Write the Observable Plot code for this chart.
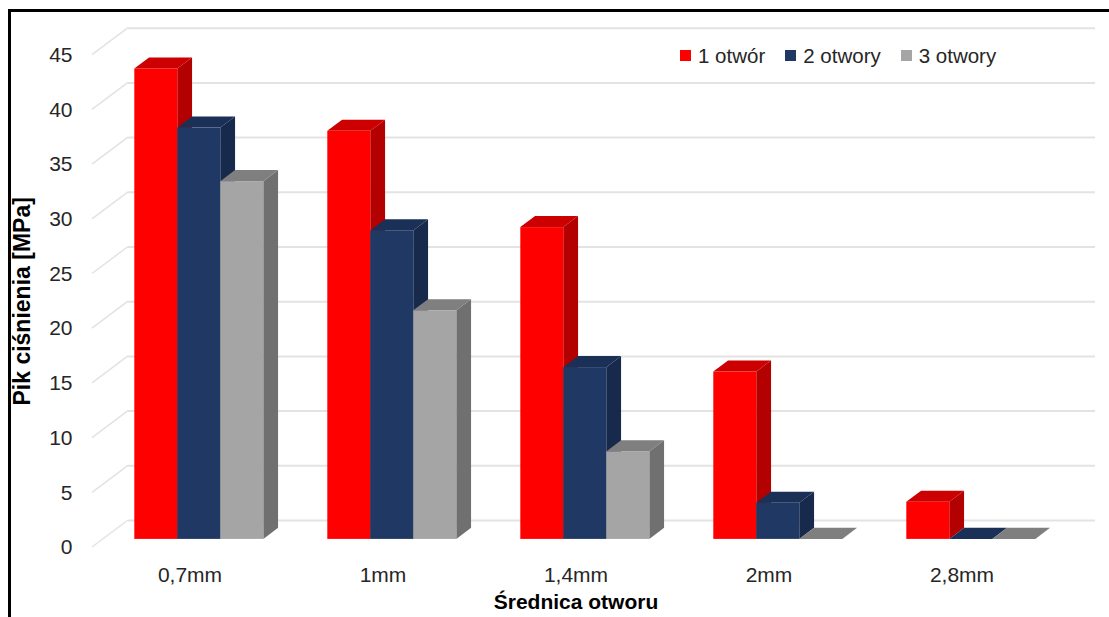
<!DOCTYPE html>
<html><head><meta charset="utf-8">
<script src="https://cdn.jsdelivr.net/npm/d3@7"></script>
<script src="https://cdn.jsdelivr.net/npm/@observablehq/plot@0.6"></script>
<style>
html,body{margin:0;padding:0;background:#fff;}
#wrap{position:relative;width:1109px;height:617px;overflow:hidden;font-family:"Liberation Sans",Arial,sans-serif;}
#wrap svg{display:block;}
#border{position:absolute;left:8px;top:9px;right:-10px;bottom:-10px;border-top:3px solid #000;border-left:3px solid #000;pointer-events:none;}
#legend{position:absolute;left:680px;top:44px;display:flex;gap:20px;font-size:20.5px;color:#262626;line-height:23px;}
.item{display:flex;align-items:center;}
.sw{width:11px;height:11px;margin-right:7px;}
</style></head><body><div id="wrap"><div id="border"></div><div id="legend"></div></div>
<script>
// ---- data ----
const categories = ["0,7mm", "1mm", "1,4mm", "2mm", "2,8mm"];
const seriesNames = ["1 otwór", "2 otwory", "3 otwory"];
const otwor1 = [43.0, 37.3, 28.5, 15.3, 3.4];
const otwory2 = [37.6, 28.2, 15.7, 3.3, 0];
const otwory3 = [32.7, 20.9, 8.0, 0, 0];
const yTicks = [0, 5, 10, 15, 20, 25, 30, 35, 40, 45];
const yTitle = "Pik ciśnienia [MPa]";
const xTitle = "Średnica otworu";

// ---- styles ----
const frontColors = ["#ff0000", "#203864", "#a5a5a5"];
const sideColors = ["#b30000", "#172a4b", "#707070"];
const topColors = ["#cc0000", "#1b3057", "#7f7f7f"];

const seriesValues = [otwor1, otwory2, otwory3];
const rows = [];
seriesValues.forEach((vals, j) => vals.forEach((v, i) => rows.push({cat: categories[i], series: seriesNames[j], j, value: v})));

const W = 1109, H = 617, ML = 92, MR = 50, MT = 54.7, MB = 70;
const PAD_IN = 1 / 3, PAD_OUT = 1 / 6;
const step = (W - ML - MR) / (categories.length - PAD_IN + 2 * PAD_OUT);
const bw = step * (1 - PAD_IN);
const w = bw / 3;
const DEPTH_X = 36, DEPTH_Y = -27, FRONT = 0.3, BAR = 0.41;
const ox = FRONT * DEPTH_X - 1.5, oy = FRONT * DEPTH_Y, bx = BAR * DEPTH_X, by = BAR * DEPTH_Y;
const NS = "http://www.w3.org/2000/svg";

function poly(g, pts, fill) {
  const p = document.createElementNS(NS, "polygon");
  p.setAttribute("points", pts.map(d => d.join(",")).join(" "));
  p.setAttribute("fill", fill);
  g.appendChild(p);
}

function gridSlants(index, scales, values, dims) {
  const g = document.createElementNS(NS, "g");
  const y = scales.y;
  for (const t of yTicks) {
    const l = document.createElementNS(NS, "line");
    l.setAttribute("x1", dims.marginLeft);
    l.setAttribute("y1", y(t));
    l.setAttribute("x2", dims.marginLeft + DEPTH_X);
    l.setAttribute("y2", y(t) + DEPTH_Y);
    l.setAttribute("stroke", "#e3e3e3");
    l.setAttribute("stroke-width", 1.5);
    g.appendChild(l);
  }
  return g;
}

function barFaces(index, scales) {
  const g = document.createElementNS(NS, "g");
  const x = scales.x, y = scales.y;
  const bww = x.bandwidth ? x.bandwidth() : bw;
  const ww = bww / 3;
  seriesValues.forEach((vals, j) => {
    vals.forEach((v, i) => {
      const xl = x(categories[i]) + j * ww + ox, xr = xl + ww;
      const yt = y(v) + oy, yb = y(0) + oy;
      if (v > 0) poly(g, [[xr, yt], [xr + bx, yt + by], [xr + bx, yb + by], [xr, yb]], sideColors[j]);
      poly(g, [[xl, yt], [xl + bx, yt + by], [xr + bx, yt + by], [xr, yt]], topColors[j]);
    });
  });
  return g;
}

const chart = Plot.plot({
  width: W, height: H,
  marginLeft: ML, marginRight: MR, marginTop: MT, marginBottom: MB,
  style: {fontFamily: "Liberation Sans, Arial, sans-serif", fontSize: "21px", color: "#262626", background: "transparent", overflow: "visible"},
  x: {type: "band", domain: categories, paddingInner: PAD_IN, paddingOuter: PAD_OUT, tickSize: 0, tickPadding: 20, label: null},
  y: {domain: [0, 45], ticks: yTicks, tickSize: 0, tickPadding: 20, label: null, tickFormat: d => String(d)},
  marks: [
    Plot.ruleY(yTicks, {stroke: "#e3e3e3", strokeWidth: 2, dx: DEPTH_X, dy: DEPTH_Y}),
    gridSlants,
    barFaces,
    ...seriesNames.map((s, j) => Plot.barY(rows.filter(r => r.j === j), {
      x: "cat", y: "value", fill: frontColors[j],
      insetLeft: j * w, insetRight: (2 - j) * w, dx: ox, dy: oy
    })),
    Plot.text([yTitle], {text: d => d, frameAnchor: "left", textAnchor: "middle", rotate: -90, dx: -70, fontWeight: "bold", fontSize: 23, fill: "#000"}),
    Plot.text([xTitle], {text: d => d, frameAnchor: "bottom", textAnchor: "middle", dy: 55, fontWeight: "bold", fontSize: 21, fill: "#000", lineAnchor: "middle"})
  ]
});
document.getElementById("wrap").appendChild(chart);

const legend = document.getElementById("legend");
seriesNames.forEach((s, j) => {
  const it = document.createElement("div"); it.className = "item";
  const sw = document.createElement("div"); sw.className = "sw"; sw.style.background = frontColors[j];
  const tx = document.createElement("span"); tx.textContent = s;
  it.appendChild(sw); it.appendChild(tx); legend.appendChild(it);
});
</script></body></html>
